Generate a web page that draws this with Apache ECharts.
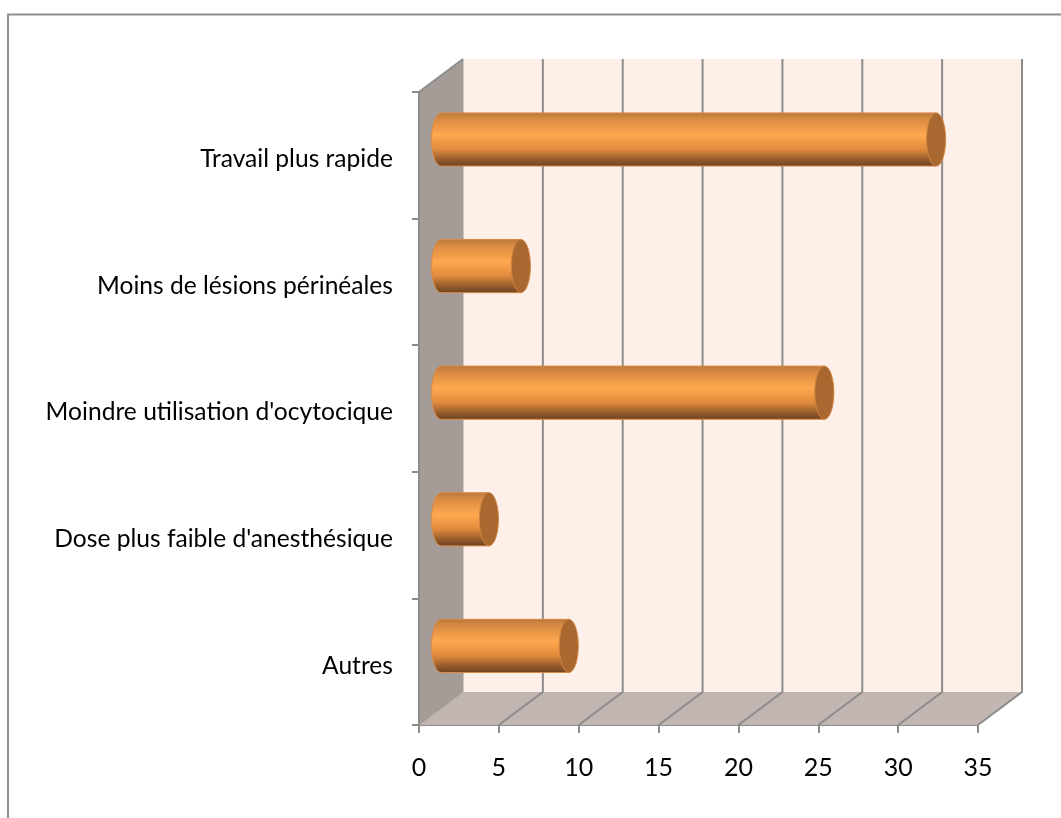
<!DOCTYPE html>
<html>
<head>
<meta charset="utf-8">
<style>
  html, body { margin: 0; padding: 0; background: #fff; }
  #main { width: 1061px; height: 818px; }
</style>
</head>
<body>
<div id="main"></div>
<script src="https://cdn.jsdelivr.net/npm/echarts@6/dist/echarts.min.js"></script>
<script>
const categories = ["Travail plus rapide", "Moins de lésions périnéales", "Moindre utilisation d'ocytocique", "Dose plus faible d'anesthésique", "Autres"];
const values = [31, 5, 24, 3, 8];
const ticks = [0, 5, 10, 15, 20, 25, 30, 35];

// oblique offset of the back wall
const depthX = 44;
const depthY = -33;
const lineColor = "#8c8c8c";

let myChart = echarts.init(document.getElementById("main"));

function renderBox(params, api) {
  let c = params.coordSys;
  let top = c.y, bottom = c.y + c.height, left = c.x, right = c.x + c.width;
  let children = [
    // back wall
    { type: "rect", shape: { x: left + depthX, y: top + depthY, width: c.width, height: c.height }, style: { fill: "#fef0e8" } },
    // side wall
    { type: "polygon", shape: { points: [[left, top], [left + depthX, top + depthY], [left + depthX, bottom + depthY], [left, bottom]] }, style: { fill: "#a59c98" } },
    // floor
    { type: "polygon", shape: { points: [[left, bottom], [left + depthX, bottom + depthY], [right + depthX, bottom + depthY], [right, bottom]] }, style: { fill: "#c1b6b1" } }
  ];
  ticks.forEach(function (t) {
    let x = api.coord([t, 0])[0];
    let sw = t === 0 ? 1 : 2;
    children.push({
      type: "polyline",
      shape: { points: [[x + depthX, top + depthY], [x + depthX, bottom + depthY], [x, bottom]] },
      style: { fill: null, stroke: t === 0 ? "#a39c98" : lineColor, lineWidth: sw }
    });
  });
  children.push({
    type: "polyline",
    shape: { points: [[left, bottom], [left, top], [left + depthX, top + depthY]] },
    style: { fill: null, stroke: lineColor, lineWidth: 2 }
  });
  return { type: "group", children: children };
}

function renderBar(params, api) {
  let start = api.coord([0, api.value(1)]);
  let end = api.coord([api.value(0), api.value(1)]);
  let band = api.size([0, 1])[1];
  let ry = band * 0.21;
  let rx = 9.5;
  let x0 = start[0] + depthX / 2;
  let x1 = end[0] + depthX / 2;
  let cy = start[1] + depthY / 2 + 0.7;
  let body = "M" + x1 + " " + (cy - ry) + " L" + x0 + " " + (cy - ry) +
    " A" + rx + " " + ry + " 0 0 0 " + x0 + " " + (cy + ry) +
    " L" + x1 + " " + (cy + ry) + " Z";
  return {
    type: "group",
    children: [
      {
        type: "path",
        shape: { pathData: body },
        style: {
          fill: new echarts.graphic.LinearGradient(0, 0, 0, 1, [
            { offset: 0, color: "#b9773a" },
            { offset: 0.12, color: "#d98a42" },
            { offset: 0.42, color: "#ffa84f" },
            { offset: 0.68, color: "#e08a3e" },
            { offset: 0.88, color: "#92592a" },
            { offset: 1, color: "#6a4220" }
          ]),
          stroke: "#d98a48",
          lineWidth: 1
        }
      },
      {
        type: "ellipse",
        shape: { cx: x1, cy: cy, rx: rx, ry: ry },
        style: { fill: "#a9682f", stroke: "#cf8440", lineWidth: 1 }
      }
    ]
  };
}

let option = {
  animation: false,
  textStyle: { fontFamily: "Lato" },
  graphic: [
    {
      type: "polyline",
      silent: true,
      shape: { points: [[8, 818], [8, 14.5], [1061, 14.5]] },
      style: { fill: null, stroke: "#8e8e8e", lineWidth: 2 }
    }
  ],
  grid: { left: 419, right: 83, top: 92, bottom: 93 },
  xAxis: {
    type: "value",
    min: 0,
    max: 35,
    interval: 5,
    splitLine: { show: false },
    axisLine: { show: true, lineStyle: { color: lineColor, width: 2 } },
    axisTick: { show: true, length: 8, lineStyle: { color: lineColor, width: 2 } },
    axisLabel: { color: "#000", fontSize: 25, fontFamily: "Lato", margin: 30 }
  },
  yAxis: {
    type: "category",
    inverse: true,
    data: categories,
    axisLine: { show: false },
    axisTick: { show: true, length: 7, lineStyle: { color: lineColor, width: 2 } },
    axisLabel: { color: "#000", fontSize: 24.6, fontFamily: "Lato", margin: 26, verticalAlign: "top", lineHeight: 8 }
  },
  series: [
    {
      type: "custom",
      silent: true,
      clip: false,
      z: 1,
      renderItem: renderBox,
      data: [[0, 0]]
    },
    {
      type: "custom",
      silent: true,
      clip: false,
      z: 2,
      renderItem: renderBar,
      encode: { x: 0, y: 1 },
      data: values.map(function (v, i) { return [v, i]; })
    }
  ]
};
myChart.setOption(option);
</script>
</body>
</html>
